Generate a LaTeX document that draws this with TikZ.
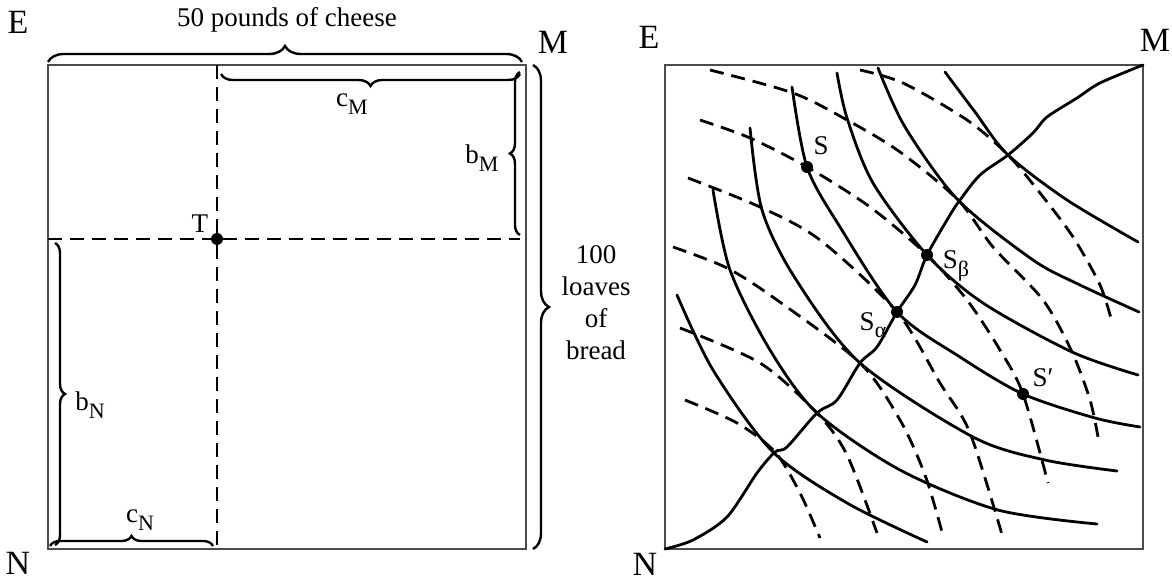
\documentclass[tikz,border=0pt]{standalone}
\usepackage{fontspec}
\setmainfont{Liberation Serif}
\usepackage{tikz}
\usetikzlibrary{decorations.pathreplacing,positioning}

\newcommand{\lowsub}[1]{\raisebox{-0.6ex}{\fontsize{11}{12}\selectfont #1}}

\tikzset{
  boxline/.style={black!70, line width=0.6pt},
  curve/.style={line width=1.4pt, line cap=round},
  dcurve/.style={line width=1.4pt, dash pattern=on 7pt off 4pt},
  brc/.style={decorate, decoration={brace, amplitude=#1}, line width=1.2pt},
  brc/.default=5pt,
  corner/.style={font=\fontsize{17}{20}\selectfont, inner sep=0pt},
  lbl/.style={font=\fontsize{13.5}{16}\selectfont, inner sep=0pt},
  dot/.style={circle, fill, inner sep=0pt, minimum size=6pt},
}

\begin{document}
\begin{tikzpicture}[x=0.5pt, y=-0.5pt]
    \useasboundingbox (0,0) rectangle (1172,582);

    % left box: the allocation T
    \coordinate (lE) at (48,65);
    \coordinate (lM) at (526,65);
    \coordinate (lN) at (48,549);
    \coordinate (lC) at (526,549);
    \draw[boxline] (lE) rectangle (lC);
    \node[dot] (T) at (217,239) {};
    \draw[dcurve] (217,65) -- (T) -- (217,549);
    \draw[dcurve] (48,239) -- (T) -- (520,239);
    \node[lbl, above left=1pt and 2pt of T] (Tl) {T};

    \node[corner] (lEl) at (18,22) {E};
    \node[corner] (lMl) at (553,42) {M};
    \node[corner] (lNl) at (18,563) {N};

    \draw[brc=8pt] (48,62) -- (522,62);
    \node[lbl] (cheese) at (287,20) {50 pounds of cheese};
    \draw[brc=6pt] (520,74) -- (221,74);
    \node[lbl] (cM) at (352,104) {c\lowsub{M}};
    \draw[brc=5pt] (520,235) -- (520,72);
    \node[lbl] (bM) at (482,158) {b\lowsub{M}};
    \draw[brc=8pt] (533,65) -- (533,549);
    \node[lbl, align=center] (bread) at (596,303) {100\\loaves\\of\\bread};
    \draw[brc=5pt] (55,243) -- (55,545);
    \node[lbl] (bN) at (90,405) {b\lowsub{N}};
    \draw[brc=5pt] (50,546) -- (213,546);
    \node[lbl] (cN) at (140,520) {c\lowsub{N}};

    % right box: indifference curves and contract curve
    \coordinate (rE) at (665,65);
    \coordinate (rM) at (1143,65);
    \coordinate (rN) at (665,549);
    \coordinate (rC) at (1143,549);
    \draw[boxline] (rE) rectangle (rC);
    \node[corner] (rEl) at (649,37) {E};
    \node[corner] (rMl) at (1155,40) {M};
    \node[corner] (rNl) at (645,564) {N};

    % M's curves
    \draw[curve] plot[smooth] coordinates {(677,295) (713,370) (773,452) (847,503) (927,542)};
    \draw[curve] plot[smooth] coordinates {(713,190) (730,270) (770,350) (817,413) (900,470) (998,510) (1097,524)};
    \draw[curve] plot[smooth] coordinates {(750,128) (762,210) (795,278) (860,363) (973,437) (1045,460) (1117,471)};
    \draw[curve] plot[smooth] coordinates {(792,87) (807,167) (840,227) (897,312) (960,357) (1023,394) (1095,418) (1140,427)};
    \draw[curve] plot[smooth] coordinates {(837,73) (847,118) (873,183) (927,255) (983,303) (1072,352) (1138,375)};
    \draw[curve] plot[smooth] coordinates {(878,68) (905,127) (958,200) (1033,260) (1080,285) (1139,312)};
    \draw[curve] plot[smooth] coordinates {(945,72) (975,112) (1008,155) (1067,200) (1138,242)};

    % N's curves
    \draw[dcurve] plot[smooth] coordinates {(685,400) (737,423) (775,452) (800,493) (820,538)};
    \draw[dcurve] plot[smooth] coordinates {(680,328) (760,363) (817,413) (847,455) (877,533)};
    \draw[dcurve] plot[smooth] coordinates {(673,247) (727,268) (777,300) (860,363) (900,420) (925,475) (942,532)};
    \draw[dcurve] plot[smooth] coordinates {(688,178) (760,207) (820,240) (897,312) (940,383) (970,433) (1003,538)};
    \draw[dcurve] plot[smooth] coordinates {(700,120) (750,138) (807,167) (870,207) (927,255) (967,300) (1000,350) (1023,394) (1048,483)};
    \draw[dcurve] plot[smooth] coordinates {(710,70) (793,93) (847,120) (900,152) (958,200) (993,247) (1043,300) (1072,352) (1090,400) (1098,437)};
    \draw[dcurve] plot[smooth] coordinates {(860,70) (903,83) (967,120) (1008,155) (1040,193) (1073,237) (1100,285) (1112,322)};

    % contract curve
    \draw[curve] plot[smooth, tension=0.5] coordinates {(rN) (693,540) (727,517) (757,473) (775,452) (787,447) (817,413) (837,400) (860,363) (877,347) (897,312) (915,285) (927,255) (950,215) (960,200) (980,175) (1008,155) (1033,133) (1047,117) (1077,98) (1100,83) (rM)};

    \node[dot] (S) at (807,167) {};
    \node[dot] (Sa) at (897,312) {};
    \node[dot] (Sb) at (927,255) {};
    \node[dot] (Sp) at (1023,394) {};
    \node[lbl] (Sl) at (821,146) {S};
    \node[lbl] (Sbl) at (956,266) {S\lowsub{β}};
    \node[lbl] (Sal) at (873,325) {S\lowsub{α}};
    \node[lbl] (Spl) at (1043,378) {S′};
\end{tikzpicture}
\end{document}
